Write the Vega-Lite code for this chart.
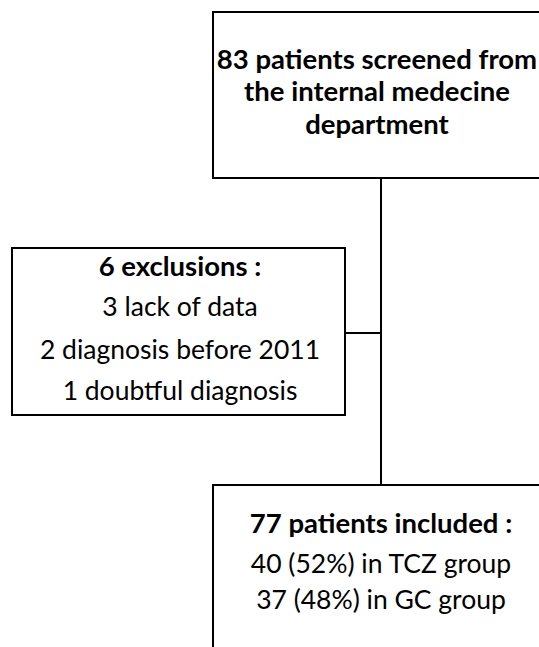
{
  "$schema": "https://vega.github.io/schema/vega-lite/v6.json",
  "width": 539,
  "height": 647,
  "padding": 0,
  "autosize": {"type": "none"},
  "background": "white",
  "config": {"view": {"stroke": null}},
  "datasets": {
    "boxes": [
      {"box": "screened", "x1": 213, "x2": 600, "y1": 12, "y2": 178},
      {"box": "exclusions", "x1": 12, "x2": 345, "y1": 248, "y2": 415},
      {"box": "included", "x1": 213, "x2": 600, "y1": 485, "y2": 700}
    ],
    "links": [
      {"x1": 381, "x2": 381, "y1": 178, "y2": 485},
      {"x1": 345, "x2": 381, "y1": 333, "y2": 333}
    ],
    "labels": [
      {"kind": "head", "x": 377, "y": 61, "label": "83 patients screened from"},
      {"kind": "head", "x": 377, "y": 93, "label": "the internal medecine"},
      {"kind": "head", "x": 377, "y": 126, "label": "department"},
      {"kind": "head", "x": 180, "y": 268, "label": "6 exclusions :"},
      {"kind": "body", "x": 180, "y": 308, "label": "3 lack of data"},
      {"kind": "body", "x": 180, "y": 351, "label": "2 diagnosis before 2011"},
      {"kind": "body", "x": 180, "y": 392, "label": "1 doubtful diagnosis"},
      {"kind": "head", "x": 381, "y": 525, "label": "77 patients included :"},
      {"kind": "body", "x": 381, "y": 565, "label": "40 (52%) in TCZ group"},
      {"kind": "body", "x": 381, "y": 601, "label": "37 (48%) in GC group"}
    ]
  },
  "layer": [
    {
      "data": {"name": "boxes"},
      "mark": {"type": "rect", "fill": "white", "stroke": "black", "strokeWidth": 2, "clip": true},
      "encoding": {
        "x": {"field": "x1", "type": "quantitative", "scale": {"domain": [0, 539]}, "axis": null},
        "x2": {"field": "x2"},
        "y": {"field": "y1", "type": "quantitative", "scale": {"domain": [0, 647], "reverse": true}, "axis": null},
        "y2": {"field": "y2"}
      }
    },
    {
      "data": {"name": "links"},
      "mark": {"type": "rule", "stroke": "black", "strokeWidth": 2},
      "encoding": {
        "x": {"field": "x1", "type": "quantitative", "scale": {"domain": [0, 539]}, "axis": null},
        "x2": {"field": "x2"},
        "y": {"field": "y1", "type": "quantitative", "scale": {"domain": [0, 647], "reverse": true}, "axis": null},
        "y2": {"field": "y2"}
      }
    },
    {
      "data": {"name": "labels"},
      "transform": [{"filter": "datum.kind === 'head'"}],
      "mark": {"type": "text", "font": "Lato", "fontSize": 27.5, "fontWeight": "bold", "align": "center", "baseline": "middle", "color": "black"},
      "encoding": {
        "x": {"field": "x", "type": "quantitative", "scale": {"domain": [0, 539]}, "axis": null},
        "y": {"field": "y", "type": "quantitative", "scale": {"domain": [0, 647], "reverse": true}, "axis": null},
        "text": {"field": "label"}
      }
    },
    {
      "data": {"name": "labels"},
      "transform": [{"filter": "datum.kind === 'body'"}],
      "mark": {"type": "text", "font": "Lato", "fontSize": 26.5, "align": "center", "baseline": "middle", "color": "black"},
      "encoding": {
        "x": {"field": "x", "type": "quantitative", "scale": {"domain": [0, 539]}, "axis": null},
        "y": {"field": "y", "type": "quantitative", "scale": {"domain": [0, 647], "reverse": true}, "axis": null},
        "text": {"field": "label"}
      }
    }
  ]
}
